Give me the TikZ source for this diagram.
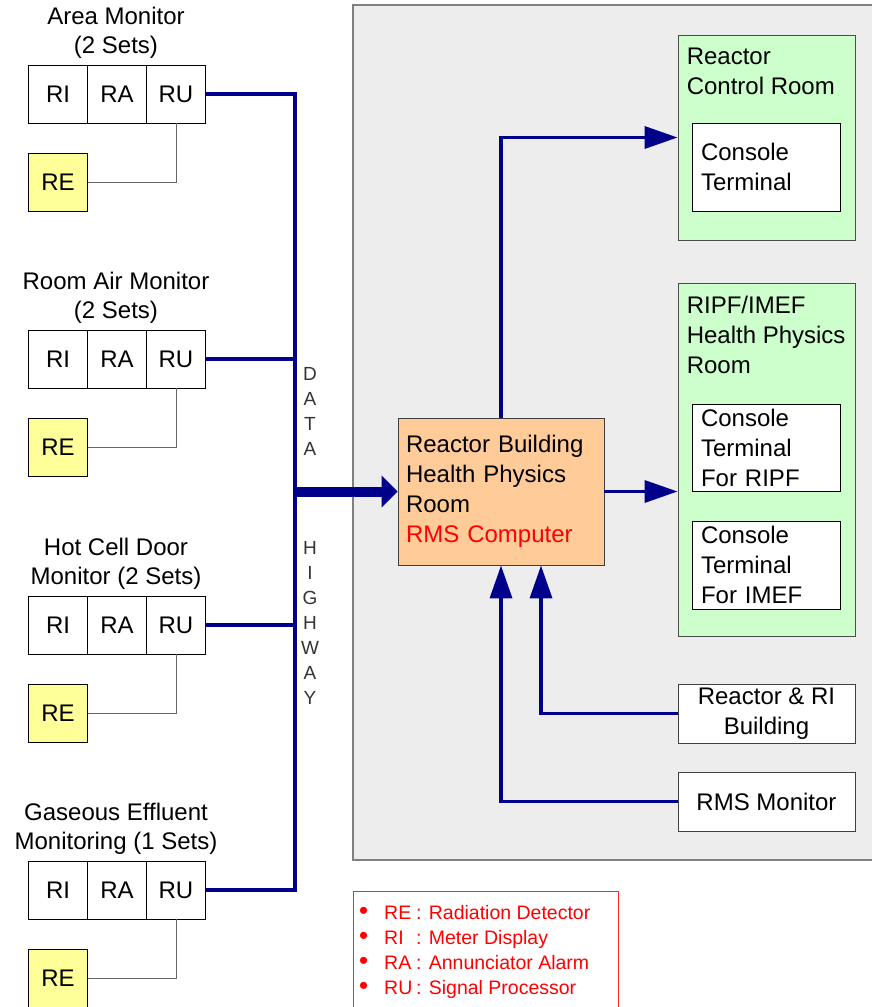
\documentclass[tikz,border=0pt]{standalone}
\usepackage{fontspec}
\setmainfont{Liberation Sans}
\usepackage{tikz}
\usetikzlibrary{arrows.meta,positioning,calc}
\definecolor{navy}{HTML}{00008B}
\definecolor{panel}{HTML}{EDEDED}
\definecolor{edge}{HTML}{808080}
\definecolor{peach}{HTML}{FFCC99}
\definecolor{mint}{HTML}{CCFFCC}
\definecolor{lemon}{HTML}{FFFF99}
\definecolor{alert}{HTML}{FF0000}
\newcommand{\bigf}{\fontsize{24}{30}\selectfont}
\tikzset{
  cell/.style  ={draw=black, line width=0.9pt, fill=white, outer sep=0pt, inner sep=0pt,
                 minimum width=59pt, minimum height=58pt, font=\bigf},
  det/.style   ={cell, fill=lemon},
  ttl/.style   ={align=center, inner sep=0pt, font=\fontsize{24}{29}\selectfont},
  comp/.style  ={draw=black!75, line width=0.9pt, fill=peach, minimum width=206pt,
                 minimum height=147pt, text width=190pt, inner xsep=8pt, align=left, font=\bigf},
  room/.style  ={draw=black!70, line width=0.9pt, fill=mint, minimum width=177pt, inner sep=0pt},
  rt/.style    ={align=left, inner sep=0pt, font=\bigf},
  term/.style  ={draw=black, line width=0.9pt, fill=white, minimum width=148pt,
                 text width=130pt, inner xsep=9pt, inner ysep=0pt, align=left, font=\bigf},
  site/.style  ={draw=black!75, line width=0.9pt, fill=white, minimum width=177pt,
                 minimum height=59pt, inner sep=0pt, align=center, font=\bigf},
  hw/.style    ={inner sep=0pt, text=black!80, font=\fontsize{19}{19}\selectfont},
  lg/.style    ={inner sep=0pt, anchor=base west, text=alert, font=\fontsize{19.5}{25}\selectfont},
  bus/.style   ={draw=navy, line width=3.5pt},
  fl/.style    ={draw=navy, line width=3.5pt, -{Triangle[length=33pt,width=22pt]}},
  fat/.style   ={draw=navy, line width=10pt, -{Triangle[length=16pt,width=31pt]}},
  wire/.style  ={draw=black!60, line width=1pt},
}

\begin{document}
\begin{tikzpicture}[x=1pt,y=-1pt]
  \useasboundingbox (0,0) rectangle (872,1007);
  \draw[draw=edge, line width=1.3pt, fill=panel] (353,5) rectangle (880,860);
  \draw[draw=alert!85, line width=0.8pt] (353,891) rectangle (618,1015);

  % monitor sets on the left, one per row
  \foreach \i/\y/\name in {1/94/{Area Monitor\\(2 Sets)},
                           2/359/{Room Air Monitor\\(2 Sets)},
                           3/625/{Hot Cell Door\\Monitor (2 Sets)},
                           4/890/{Gaseous Effluent\\Monitoring (1 Sets)}}{
    \node[ttl] (t\i) at (116,\y-61) {\name};
    \node[cell] (ri\i) at (58,\y) {RI};
    \node[cell, right=0pt of ri\i] (ra\i) {RA};
    \node[cell, right=0pt of ra\i] (ru\i) {RU};
    \node[det, below=30pt of ri\i] (re\i) {RE};
    \draw[wire] (ru\i.south) |- (re\i.east);
    \coordinate (b\i) at (295,\y);
  }
  \draw[bus] (ru1.east) -- (b1) -- (b4) -- (ru4.east);
  \draw[bus] (ru2.east) -- (b2);
  \draw[bus] (ru3.east) -- (b3);
  \foreach \c [count=\k] in {D,A,T,A}
    \node[hw] (d\k) at (310,349+25*\k) {\c};
  \foreach \c [count=\k] in {H,I,G,H,W,A,Y}
    \node[hw] (h\k) at (310,523+25*\k) {\c};

  \node[comp] (rms) at (501,491.5)
        {Reactor Building\\Health Physics\\Room\\\textcolor{alert}{RMS Computer}};
  \coordinate (hwy) at (b1 |- rms.west);
  \draw[fat] (hwy) -- (rms.west);

  \node[room, minimum height=205pt] (rcr) at (766.5,137.5) {};
  \node[rt, below right=13pt and 9pt of rcr.north west] (rcrt) {Reactor\\Control Room};
  \node[term, minimum height=88pt] (con) at (766,167) {Console\\Terminal};

  \node[room, minimum height=353pt] (ripf) at (766.5,459.5) {};
  \node[rt, below right=13pt and 9pt of ripf.north west] (ripft) {RIPF/IMEF\\Health Physics\\Room};
  \node[term, minimum height=87pt] (conr) at (766,447.5) {Console\\Terminal\\For RIPF};
  \node[term, minimum height=88pt] (coni) at (766,565) {Console\\Terminal\\For IMEF};

  \node[site] (rri) at (766.5,713.5) {Reactor \& RI\\Building};
  \node[site] (rmon) at (766.5,801.5) {RMS Monitor};

  \draw[fl] (rms.north) |- (rcr.west);
  \draw[fl] (rms.east) -- (rms.east -| ripf.west);
  \draw[fl] (rri.west) -| ($(rms.south)+(40,0)$);
  \draw[fl] (rmon.west) -| (rms.south);

  \foreach \ab/\txt [count=\k] in {RE/Radiation Detector, RI/Meter Display,
                                   RA/Annunciator Alarm, RU/Signal Processor}{
    \node[lg, font=\fontsize{26}{25}\selectfont] (lb\k) at (359,894+25*\k) {\textbullet};
    \node[lg] (la\k) at (384,894+25*\k) {\ab};
    \node[lg] (lt\k) at (416,894+25*\k) {: \txt};
  }
\end{tikzpicture}
\end{document}
